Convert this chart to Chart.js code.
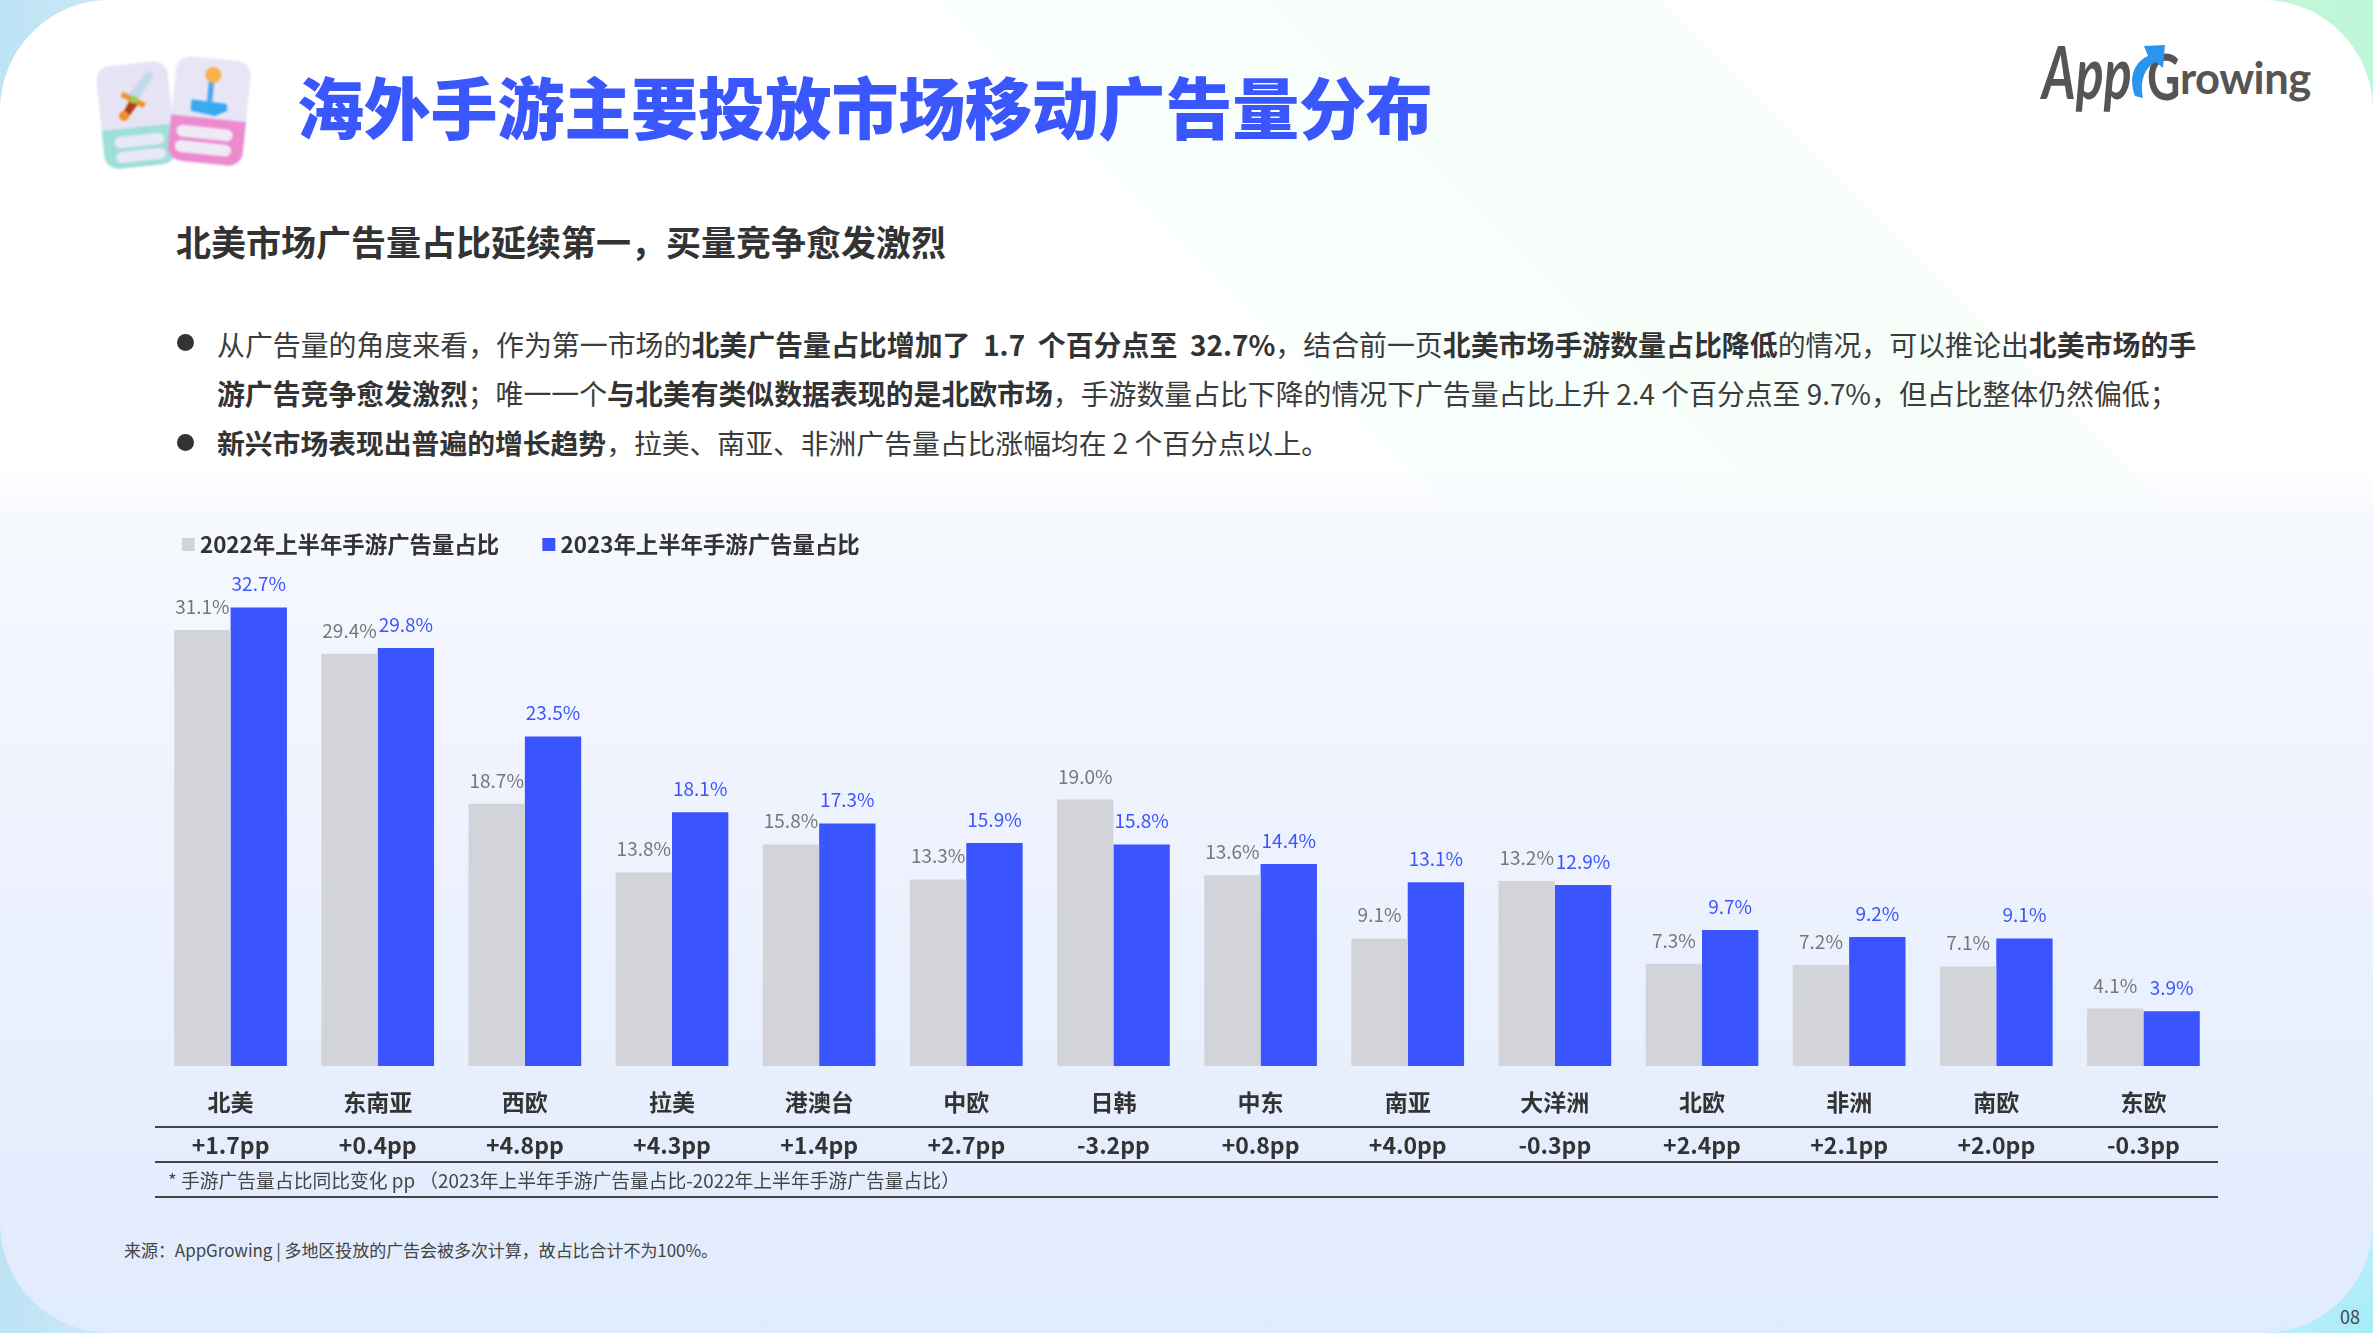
<!DOCTYPE html>
<html lang="zh-CN">
<head>
<meta charset="utf-8">
<title>海外手游主要投放市场移动广告量分布</title>
<script src="https://cdn.jsdelivr.net/npm/chart.js@4/dist/chart.umd.min.js"></script>
<style>
html, body { margin: 0; padding: 0; width: 2373px; height: 1333px; overflow: hidden; }
body {
    position: relative;
    font-family: "Noto Sans CJK SC", "Noto Sans", sans-serif;
    color: #333;
    background:
        radial-gradient(circle at 100% 100%, #a6ecf8 0, #c4eefa 130px, transparent 190px),
        linear-gradient(90deg, #bde3f5 0, #cfeaf7 130px, #e8f6ee 1200px, #bff6d8 2373px);
}
#panel {
    position: absolute; left: 0; top: 0; width: 2373px; height: 1333px;
    border-radius: 110px;
    background:
        linear-gradient(180deg, rgba(248,250,255,0) 470px, #f7f9ff 510px, #eff3fe 800px, #e0ebfd 1333px),
        linear-gradient(45deg, #fff 1608px, #f8fefc 1612px, #f7fef9 2115px, #fff 2119px);
}
.abs { position: absolute; white-space: nowrap; }
#title { left: 297px; top: 60px; font-size: 67px; line-height: 90px; font-weight: 900; color: #3a57fd; letter-spacing: -.2px; }
#subtitle { left: 176px; top: 216px; font-size: 35px; line-height: 50px; font-weight: 700; color: #333; }
.body { left: 217px; font-size: 27.8px; line-height: 40px; color: #3c3c3c; }
.body b { font-weight: 700; color: #333; }
.dot { position: absolute; left: 177px; width: 17px; height: 17px; border-radius: 50%; background: #333; }
.rule { position: absolute; left: 155px; width: 2063px; height: 2px; background: #444; }
#note { left: 168px; top: 1166px; font-size: 18.8px; line-height: 28px; color: #444; }
#source { left: 124px; top: 1237px; font-size: 17px; line-height: 26px; color: #444; letter-spacing: -.05px; }
#page { left: 2340px; top: 1304px; font-size: 18px; line-height: 24px; color: #444; }
.logo { position: absolute; font-family: Lato, sans-serif; font-weight: 700; color: #555; transform-origin: 0 0; white-space: nowrap; }
#chartBox { position: absolute; left: 0; top: 484px; width: 2373px; height: 696px; }
</style>
</head>
<body>
<div id="panel"></div>

<svg class="abs" style="left:80px;top:40px;filter:blur(1px)" width="190" height="140" viewBox="0 0 570 420">
  <g transform="rotate(-6 170 220)">
    <rect x="60" y="70" width="215" height="310" rx="42" fill="#e6e4f4"/>
    <path d="M60 262H275V338a42 42 0 0 1-42 42H102a42 42 0 0 1-42-42Z" fill="#9fdfd8"/>
    <rect x="95" y="285" width="150" height="34" rx="17" fill="#e9e8f6"/>
    <rect x="95" y="330" width="150" height="34" rx="17" fill="#e9e8f6"/>
  </g>
  <g transform="rotate(6 385 220)">
    <rect x="275" y="55" width="225" height="315" rx="42" fill="#e8e6f5"/>
    <path d="M275 235H500V328a42 42 0 0 1-42 42H317a42 42 0 0 1-42-42Z" fill="#ec8ad0"/>
    <rect x="295" y="262" width="170" height="36" rx="18" fill="#efe9f6"/>
    <rect x="295" y="308" width="170" height="36" rx="18" fill="#efe9f6"/>
  </g>
  <path d="M145 165 205 90 222 105 168 190Z" fill="#c3d9ec"/>
  <path d="M128 155 198 190 190 204 122 170Z" fill="#f0902a"/>
  <path d="M150 180 125 225 140 238 172 195Z" fill="#b23a1a"/>
  <circle cx="132" cy="228" r="15" fill="#f0902a"/>
  <circle cx="160" cy="180" r="11" fill="#9ccf3c"/>
  <rect x="384" y="120" width="16" height="65" fill="#4ca8e8" transform="rotate(5 392 150)"/>
  <circle cx="400" cy="105" r="24" fill="#fbb04e"/>
  <path d="M335 178 440 192 442 212 405 228 332 212Z" fill="#38aaf2"/>
</svg>

<div class="abs" id="title">海外手游主要投放市场移动广告量分布</div>
<div class="abs" id="subtitle">北美市场广告量占比延续第一，买量竞争愈发激烈</div>

<div class="logo" style="left:2042px;top:26px;font-size:72px;line-height:90px;font-style:italic;transform:scaleX(.72)">App</div>
<div class="logo" style="left:2147px;top:36px;font-size:64px;line-height:80px;transform:scaleX(.72)">G</div>
<svg class="abs" style="left:2131px;top:44px" width="36" height="60" viewBox="0 0 36 60"><path d="M4 52C-3 34 3 18 17 12L13 2 34 1 32 24 25 18C15 22 8 36 12 54Z" fill="#2a95ef"/></svg>
<div class="logo" style="left:2180px;top:47px;font-size:43.5px;line-height:60px;letter-spacing:-.5px">rowing</div>

<div class="dot" style="top:334px"></div>
<div class="dot" style="top:434px"></div>
<div class="abs body" style="top:324px;font-size:27.92px">从广告量的角度来看，作为第一市场的<b>北美广告量占比增加了&nbsp; 1.7&nbsp; 个百分点至&nbsp; 32.7%</b>，结合前一页<b>北美市场手游数量占比降低</b>的情况，可以推论出<b>北美市场的手</b></div>
<div class="abs body" style="top:373px;font-size:27.86px"><b>游广告竞争愈发激烈</b>；唯一一个<b>与北美有类似数据表现的是北欧市场</b>，手游数量占比下降的情况下广告量占比上升 2.4 个百分点至 9.7%，但占比整体仍然偏低；</div>
<div class="abs body" style="top:422px"><b>新兴市场表现出普遍的增长趋势</b>，拉美、南亚、非洲广告量占比涨幅均在 2 个百分点以上。</div>

<div id="chartBox"><canvas id="shareChart"></canvas></div>

<div class="rule" style="top:1126px"></div>
<div class="rule" style="top:1161px"></div>
<div class="rule" style="top:1196px"></div>
<div class="abs" id="note">* 手游广告量占比同比变化 pp （2023年上半年手游广告量占比-2022年上半年手游广告量占比）</div>
<div class="abs" id="source">来源：AppGrowing | 多地区投放的广告会被多次计算，故占比合计不为100%。</div>
<div class="abs" id="page">08</div>

<script>
const categories = ['北美', '东南亚', '西欧', '拉美', '港澳台', '中欧', '日韩', '中东', '南亚', '大洋洲', '北欧', '非洲', '南欧', '东欧'];
const share2022 = [31.1, 29.4, 18.7, 13.8, 15.8, 13.3, 19.0, 13.6, 9.1, 13.2, 7.3, 7.2, 7.1, 4.1];
const share2023 = [32.7, 29.8, 23.5, 18.1, 17.3, 15.9, 15.8, 14.4, 13.1, 12.9, 9.7, 9.2, 9.1, 3.9];
const ppChange = ['+1.7pp', '+0.4pp', '+4.8pp', '+4.3pp', '+1.4pp', '+2.7pp', '-3.2pp', '+0.8pp', '+4.0pp', '-0.3pp', '+2.4pp', '+2.1pp', '+2.0pp', '-0.3pp'];

const GREY = '#d3d4da';
const BLUE = '#3a55ff';
const FONT = '"Noto Sans CJK SC", "Noto Sans", sans-serif';

// value labels above the bars
const barLabels = {
    id: 'barLabels',
    afterDatasetsDraw(chart) {
        const ctx = chart.ctx;
        ctx.save();
        ctx.font = '19px ' + FONT;
        ctx.textAlign = 'center';
        ctx.textBaseline = 'alphabetic';
        chart.data.datasets.forEach((ds, i) => {
            ctx.fillStyle = i === 0 ? '#777' : BLUE;
            chart.getDatasetMeta(i).data.forEach((bar, j) => {
                ctx.fillText(ds.data[j].toFixed(1) + '%', bar.x, bar.y - 16);
            });
        });
        ctx.restore();
    }
};

new Chart(document.getElementById('shareChart'), {
    type: 'bar',
    data: {
        labels: categories.map((c, i) => [c, ppChange[i]]),
        datasets: [
            { label: '2022年上半年手游广告量占比', data: share2022, backgroundColor: GREY },
            { label: '2023年上半年手游广告量占比', data: share2023, backgroundColor: BLUE }
        ]
    },
    options: {
        responsive: true,
        maintainAspectRatio: false,
        animation: false,
        layout: { padding: { left: 138.5, right: 156, top: 0, bottom: 0 } },
        datasets: { bar: { categoryPercentage: 0.766, barPercentage: 1, borderWidth: 0 } },
        plugins: {
            tooltip: { enabled: false },
            legend: {
                position: 'top',
                align: 'start',
                labels: {
                    usePointStyle: true,
                    pointStyle: 'rect',
                    boxWidth: 1,
                    boxHeight: 13,
                    padding: 49.25,
                    color: '#333',
                    font: { family: FONT, size: 22.4, weight: 'bold' }
                }
            }
        },
        scales: {
            x: {
                grid: { display: false, drawTicks: false },
                border: { display: false },
                ticks: {
                    padding: 15,
                    color: '#333',
                    maxRotation: 0,
                    autoSkip: false,
                    font: { family: FONT, size: 23, weight: 'bold', lineHeight: 1.87 }
                },
                afterFit: s => { s.height = 114; }
            },
            y: {
                min: 0,
                max: 35.68,
                grid: { display: false, drawTicks: false },
                border: { display: false },
                ticks: { display: false },
                afterFit: s => { s.width = 18.5; }
            }
        }
    },
    plugins: [barLabels]
});
</script>
</body>
</html>
